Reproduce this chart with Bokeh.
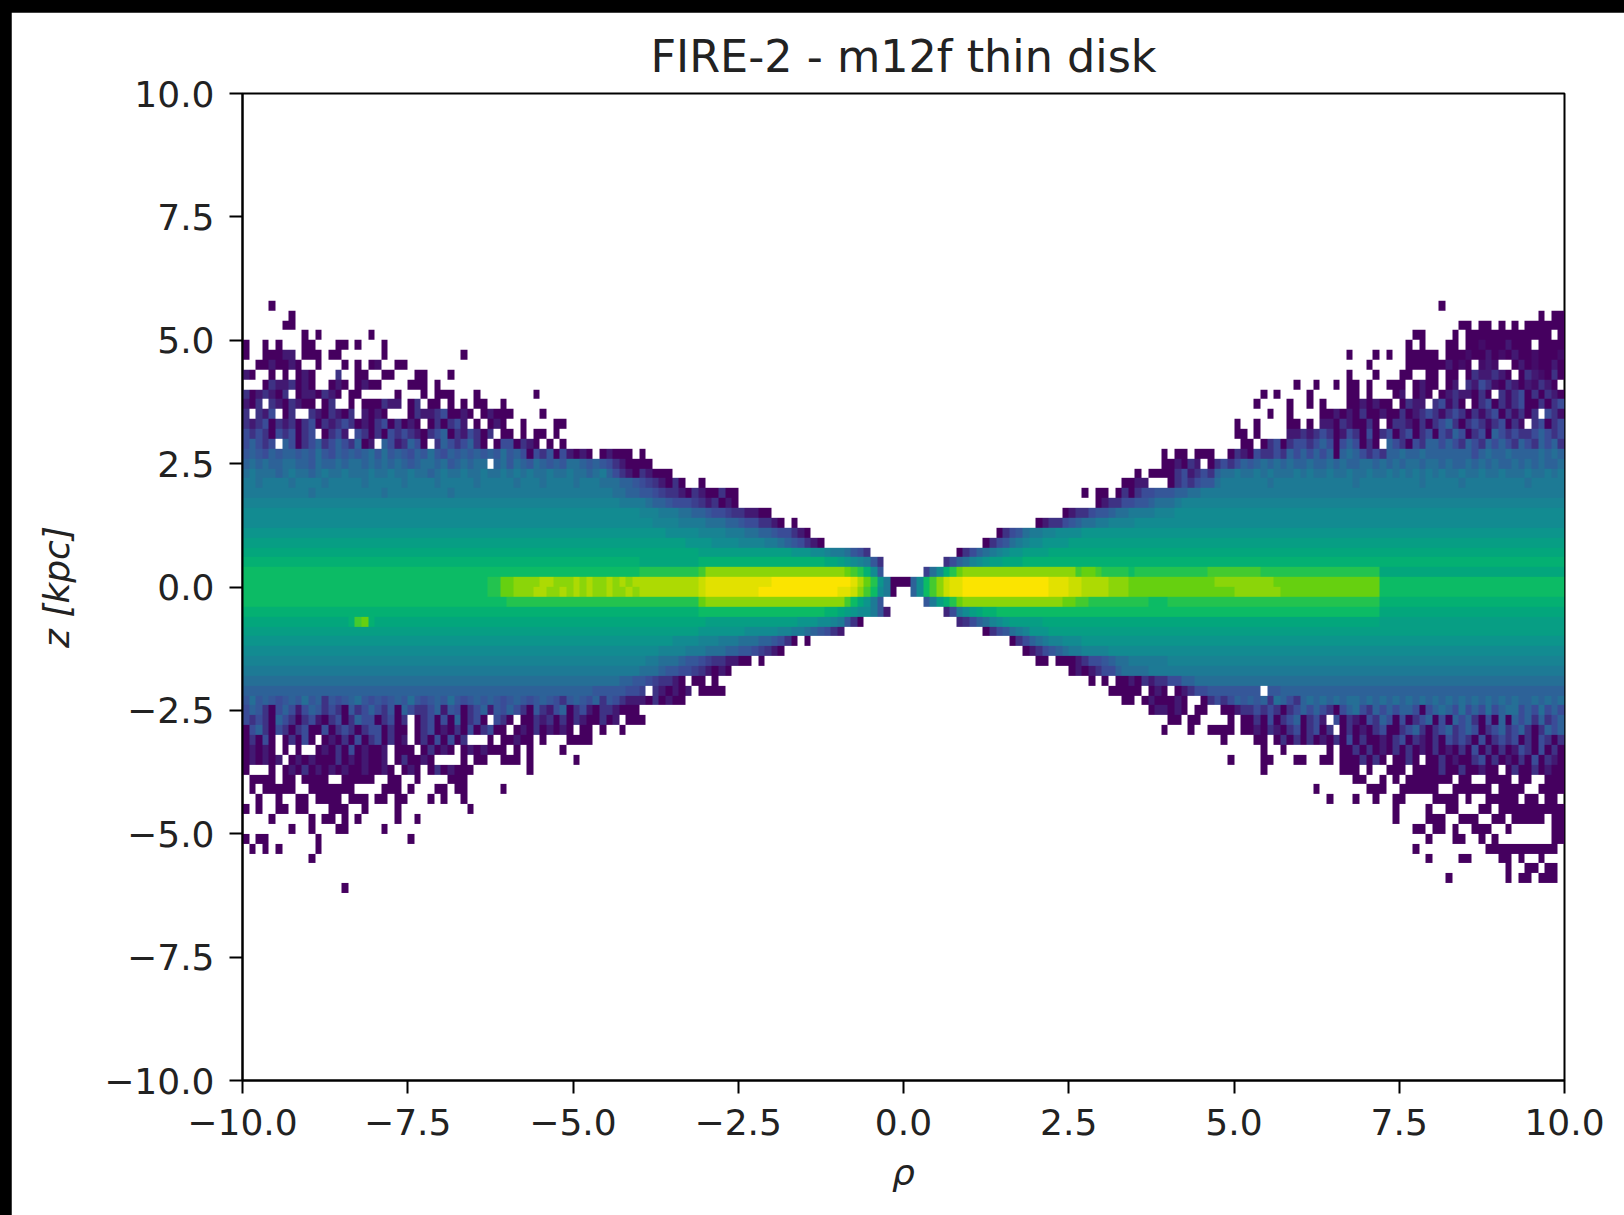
import numpy as np
from bokeh.embed import file_html
from bokeh.models import ColumnDataSource, FixedTicker, LinearColorMapper
from bokeh.plotting import figure
from bokeh.resources import INLINE

title_text = "FIRE-2 - m12f thin disk"
x_label = "ρ"
y_label = "z [kpc]"
tick_values = [-10, -7.5, -5, -2.5, 0, 2.5, 5, 7.5, 10]
tick_labels = ["−10.0", "−7.5", "−5.0", "−2.5", "0.0", "2.5", "5.0", "7.5", "10.0"]

# Histogram cells. One row per z bin (0.2 wide), top row z = 5.6..5.8.
# Ten blocks per row, each 20 rho bins (0.1 wide); a block's last letter repeats to fill it.
# '.' = empty cell, a..z = colour level.
rows_upper = [
"....a. . . . . . . . . .a.",
".......a. . . . . . . . . ................a.aa",
"......aa. . . . . . . . . ....aa.aa.a.a.aaaaaa",
".........a.a.......a . . . . . . . .................aa. ...a.aaaaaaaaaaaaa.a",
"a..a.a...aa...aa.a.. .a. . . . . . . ................a.a. ..aa.aabaaacaaa.aaaa",
"a..aaacc.aaa.aa..... .a...........a. . . . . . . .......a...a.a..aaaa a.aaabaacabacaabaaab",
"..aacaaca..a...a.a.a b..aa. . . . . . . ..........a.....aaaa aacaba.bcb..acabaaca",
"ca..a.a.aca...e..aa. .aa...aa...a. . . . . . . .......a...a...aa..a a.aa.aecceca.aecbaea",
"...aecceaca..aca.aca a....aaa.a. . . . . . ...................a ..a..a.aa.a..aaa.aca a.ac.ecgebaecacbeca.",
"eacecae.accaeca.aa.. ...a...a.aaa...a. ....a. . . . . ..............a.a. .a.....aa.a...ac.aca .aceccaea.ebegaeaeca",
"cae.ecaecaa.ae..a.aa aecc.ae.aa.a.a.aa..a . . . . . .............a....a. .a.a...aacacaa.aecc. egbea.aegaebegaaeaeg",
"e.ecg.ae..ecaecae.ca ca...aeccegaaca.acaa a....a. . . . . ...............a..a. ...aacacaeaacaaeaceg ebegeaebegaebeae.geb",
"ecegaeceaegaecegeaca egaeaca.aeaegc.a.aca ..a....aa. . . . . ..........a..a....aa .a.ccaecaaea.aeecaea egieaegebegaeb.egaeg",
"gegeagegaeg.aegc.gea eagegecaegiaecgeae.a. a.a.aa.a. . . . . ..........aa.a....cc ecegeacgeagaegaegaeg ageigaegaigegeegigeg",
"gigeg.igaegiegigeiac .igceiga.eigegiea.agi gaeca.a.a. . . . . ...........aa.aegaeg gegigagigaea.igeagei igigeigeigigeigeigiei",
"hihgihiihihjhgihihij hjhihgihjhgihihihihj higagehagcaca.acaaa.. a. . . ...................a .aa.aaa..aecageegeig igigiaijigegeiijiiji iiiiiigijiijiiiijiji",
"ijijiijjiihjiijijjij ijijihijjijhijijj.ij hjihjihihjjihihgecaa. aa. . . ...................a acaec.aegegihijijiji ijiijijiijjijijijjij jijiijijijiijijijiij",
"jkjjjijkjjijkjjkjjjk jjkjjkjjijkjjkjjkjjk jkjkjjkjjkjjijkigeca ecaaa. . . ...............a.aaa aegcegeijjkjjkjkjjjk jkjjkjjkjjkjjkjkjkjk jkjjkjjkjjkjjjkjjkjk",
"kkjkkkkjkkkkjkkkkkjk kkkkjkkkkjkkkkkjkkkk kjkkkjkkkkjkkkjjjiih gfecaea..a. . . .............aacc... aegeghhjkkkkkkkjkkkkk kkkkkkkkjkkkkkkkkkjk kkkkjkkkkkkkkkjkkkkk",
"kkkkkkkkkkjkkkkkkkkk kjkkkkkkkkkjkkkkkkkk kkkkkkkkkkkkkkkkjjii hhgfeecaecaaeaa. . . .......a.aa.aeaegghh hiijjkkkkkkkkkkkkkkk k k",
]
rows_core = [
"l l lllllllllllllllllkkk kjiihgggfeceaca. . . .........aceegghhijj jkl l l",
"m m m lllkkkjjiihggfeeccaa. . . ....aceeghhijjkkkkll lm m m",
"m m m mmllllkkkkjjjiihggee ca.a. . aceeghijjkkllllmmmmm m m m",
"n n n nnnnmmmmmllllkkkjjii hggeca. ..............aeghjk kllmmmmn n n n",
"o o o ooooooonnnnmmmmllllk kjihgeca. ............aeghjklm mnnnnoo o o o",
"p p p pppppppppooooooooooo ooonnnmmlkkjhge. ........aegijklmnnoo oopp p p p",
"q q q pppppppppqqqqqqqqqqq qqqqqqqqpponmlkhe. ......egijlmnoopppqq qqqq q q q",
"r r r ssssssssstvvvvvvvvvv vvvvvvvvvvvutsqmh. ...fjmqsuvvvvvvvvvvv vvvvvvtuutssssrsssss ssssssttttttttssssss sssssssssssspppppppp p",
"r rrrrrrrrrrrrrrrrrssu uvvvvwwvvvwvwvvwvwvw wwwwwwwwwxyyyyyyyyyy zzzzzzzzzzzzywusnkaa aimrtvxyyzzzzzzzzzzz zzyyyxxwwwwvvvuuuuuu uuuuuuuvvvvvvvvvuuuu uuuuuuuuuuuurrrrrrrr r",
"r rrrrrrrrrrrrrrrrrssu uvvvwwvvwvwvwvvwvvwv wwwwwwwwwxyyyyyyyyzz zzzzzzzzzzyyxvtrmka. .imrtvxyyzzzzzzzzzzz zzyyyxxwwwwvvvuuuuuu uuuuuuuuuuvvvvvvvuuu uuuuuuuuuuuurrrrrrrr r",
"r r s sssssssssuvvvvvvvvvv vvvvvvvvvvvtrpnkh. ...hkoqsuvvvvvvvvvvv vvvvuuttsssssssssrrr sssssssss ssssssssssssqqqqqqqq q",
"q q q qqqqqqqqqrrrrrrrrrrr rrrrrrrrqqponmmkhc. ......dgkmopqqrrrrrr r r rrrrrrrrrrrrpppppppp p",
"ppppppppppppppppqtuq p p ppppppppppoooooooooo oooonnnmmlkhea. ........degijlmnoooo opp p ppppppppppppoooooooo o",
"o o o ooooooooonnnnnnnmmmm mllkkjihgec. ............aeghjkln nnooo o o o",
"n n n nnnnnmmmmlllkkkjjjii hgea.a. ................aegi jkllmmmnn n n n",
"m m m mmmllllkkkjjjiihhgfe ca. ..................ac eghijkkllllm m m m",
"l l l lkkjjjihhgfeeccaa.a. . . aa.aaacegghijjkkkkkk l l l",
"k k k jjjihhggfecaca. . . .....acaceggijjjjkkk k k k",
"j j jjjjjjjjjjjjjjjjjiih hgfeeca.aa.a. . . ........a.a.aacaecee ggiijjjjj j j",
"i i iiiiiiiiiiiiihhhhhgg f.ecacac.aaaa. . . ...........aaaaa.aca .acegghhhhhhhh.hhii i i",
]
rows_lower = [
"hjhihghihjhiehghijhg hghihjhghihjhghihihg hihghihgehihgiehgecc caeacaa. . . .............aa.acaa aca..aegegihihiejige ijijijijjijijijijiji jijijijijijijiijijij",
"giheagigcgihegeahegi gehaigeegichgaegichg igeahecgiaegcaeecaaa . . . .................acc aca.aa..aaceegegeaeg igigeagijgeigigiigag ijigjgigjgijjgigjgig",
"gegeaigeaegcaegaeigg aegae.aegagaiaega.ge a.aaeceaeaecaaeac.aa a. . . . aa.aa....a.aaeagaegi aegc.gaecageigagaegi agaigieagaiaigieiegi",
"agieageaegaagaegeaeg gaeaa.aegacaeagaegaa .acaeacaca.aa.a..a.. . . . ...................a ...a..aaaa.aacaecaeg aegae.aeacaegaaegiea egiegigaegiegieaeigi",
"aeaga.aeaga.acaeagae gaeac.aeagagae...a.a acaa.a...aaaa. . . . . ........a....aa.aeae aeacaeagaeaacaegaeca eagegeagaegegaeageae",
"acaca.a.a..acaeagaca ac.aaa.aeaca.acacaaa .a.a....a. . . . . ..............a..a.. ....a.aaeaeacaeaeaca eacaeagaeaeacgeagaea",
"acacac.acacaaaeacaca ac.aeaaca....a.aa..a aa.a......a. . . . . .........a....aa...a a..aa.aaaeaea.aaea.a aeacaaegaeacaeagaeca",
"a...a.acaeacacacaaca aca.aca.aeacaaa. ...a. . . . . ..............a. ......aaa.a..aaa.aaa aeaaeaacaa.aeaaeacaa",
".aaaa.aa.aaaa..aaaaa ..aa..a....aaa. . . . . . . ........aa..a.a.aaaa aaa.aa..aaaa.aa..aaa",
".a.aaaaa..aaaaaaa... .aaa.a...aa.aa.....a . . . . . . ..a.......aaa..aaaaa a..aaaaaa.aaaa..aaaa",
"..a..a..aa.aaaa.aaa. aa.aa...a.a..a. . . . . . . ....a...a..a..aa. aaaa.a..aaaaa.aa.aa.",
"a.a..aa.aa...aaa..a. ...a..........a. . . . . . . ..............a....a ..aa...aa.aaaaaaaaaa",
"....a.....a.aa.a.a.. ...a..a. . . . . . . ..............a....a aa..aaa..aa.aaaaa.aa",
".......a..a...aa.... .a. . . . . . . .................aa. aa.a..aaa..a......aa",
"a.aa.......a. .....a. . . . . . . ...................a ...aa..a.a........aa",
".a.a.a.....a. . . . . . . . .................a. ........aaaaaaaaaaa.",
"..........a. . . . . . . . ...................a ....aa....aa.a..a.",
". . . . . . . . . ...........a..aa.aa.",
". . . . . . . . . ..a........a.aa.aaa.",
"...............a. . . . . . . . . .",
]

# Colour anchors (viridis, as the compressed picture renders it).
palette_stops = [0.0, 0.25, 0.4, 0.5, 0.62, 0.7, 0.8, 0.9, 1.0]
palette_colors = ["#45005f", "#3a4f9a", "#1d7a95", "#0f9090", "#00ab78", "#10c060", "#66d010", "#bcdc00", "#fbe400"]

LEVELS = "abcdefghijklmnopqrstuvwxyz"
ROW_TOP = 5.8
BIN_Z = 0.2
BIN_RHO = 0.1


def make_palette(stops, colors, n=256):
    rgb = np.array([[int(c[i:i + 2], 16) for i in (1, 3, 5)] for c in colors], dtype=float)
    t = np.linspace(0, 1, n)
    out = np.stack([np.interp(t, stops, rgb[:, k]) for k in range(3)], axis=1).round().astype(int)
    return ["#%02x%02x%02x" % tuple(v) for v in out]


def parse_row(text):
    cells = []
    for block in text.split():
        block = block[:20].ljust(20, block[-1])
        cells.extend(float("nan") if c == "." else float(LEVELS.index(c)) for c in block)
    return cells


all_rows = rows_upper + rows_core + rows_lower
bad = [(i, len(r.split())) for i, r in enumerate(all_rows) if len(r.split()) != 10]
if bad:
    raise SystemExit(f"bad rows: {bad}")
grid = np.array([parse_row(r) for r in all_rows])[::-1]
z_low = ROW_TOP - BIN_Z * len(all_rows)

mapper = LinearColorMapper(palette=make_palette(palette_stops, palette_colors), low=0, high=25, nan_color=(0, 0, 0, 0))

p = figure(
    width=1613, height=1203, x_range=(-10, 10), y_range=(-10, 10),
    output_backend="svg", toolbar_location=None,
    min_border_left=231, min_border_right=60, min_border_top=81, min_border_bottom=135,
    margin=(12, 0, 0, 11), background_fill_color="white", border_fill_color="white",
)
source = ColumnDataSource(dict(image=[grid], x=[-10], y=[z_low], dw=[BIN_RHO * grid.shape[1]], dh=[BIN_Z * grid.shape[0]]))
p.image(image="image", x="x", y="y", dw="dw", dh="dh", source=source, color_mapper=mapper)

p.grid.visible = False
p.outline_line_color = "black"
p.outline_line_width = 2
p.title.text = title_text
p.title.align = "center"
p.title.text_font = "DejaVu Sans"
p.title.text_font_size = "44.5px"
p.title.text_font_style = "normal"
p.title.text_color = "#222222"
p.title.standoff = 24

for axis, label, label_standoff in ((p.xaxis[0], x_label, 14), (p.yaxis[0], y_label, 24)):
    axis.ticker = FixedTicker(ticks=tick_values)
    axis.major_label_overrides = dict(zip(tick_values, tick_labels))
    axis.minor_tick_line_color = None
    axis.major_tick_in = 0
    axis.major_tick_out = 13
    axis.major_tick_line_width = 2
    axis.major_tick_line_color = "black"
    axis.axis_line_color = "black"
    axis.axis_line_width = 2
    axis.major_label_text_font = "DejaVu Sans"
    axis.major_label_text_font_size = "36px"
    axis.major_label_text_color = "#222222"
    axis.major_label_standoff = 15
    axis.axis_label = label
    axis.axis_label_text_font = "DejaVu Sans"
    axis.axis_label_text_font_size = "36px"
    axis.axis_label_text_font_style = "italic"
    axis.axis_label_text_color = "#222222"
    axis.axis_label_standoff = label_standoff

html = file_html(p, INLINE)
html = html.replace("</head>", "<style>html,body{margin:0;padding:0;background:#000;overflow:hidden}</style></head>", 1)
open("out.html", "w").write(html)
